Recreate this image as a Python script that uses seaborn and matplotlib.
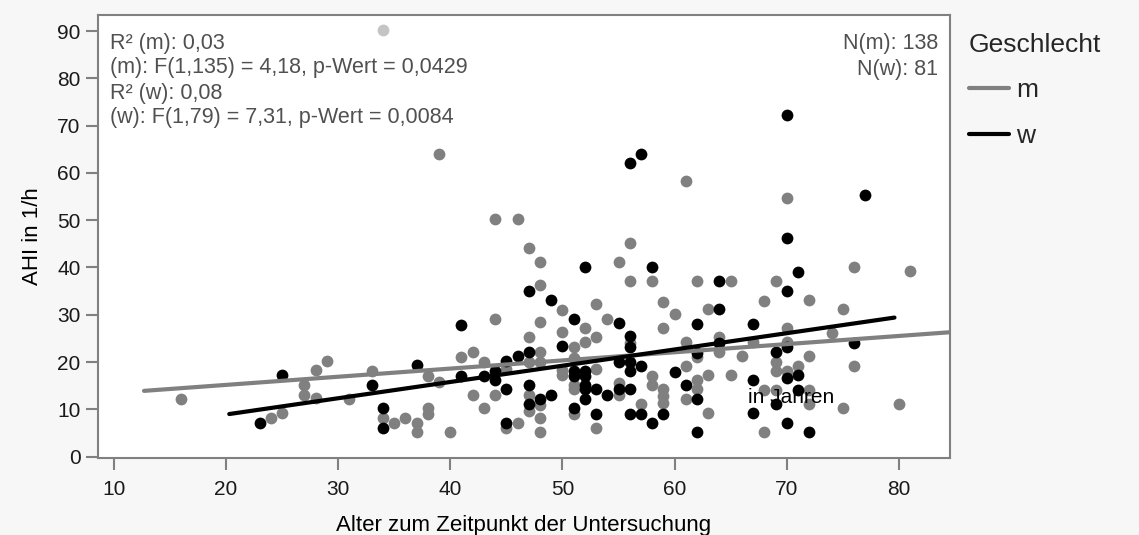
import matplotlib
matplotlib.use("Agg")
import matplotlib.pyplot as plt
import seaborn as sns
import pandas as pd
from matplotlib.lines import Line2D

# ---- data ----
m_age = [16, 24, 25, 27, 27, 28, 28, 29, 31, 33, 34, 35, 36, 37, 37, 38, 38, 38, 39, 39,
         40, 41, 42, 42, 43, 43, 44, 44, 44, 45, 45, 46, 46, 47, 47, 47, 47, 47, 48, 48,
         48, 48, 48, 48, 48, 48, 50, 50, 50, 50, 51, 51, 51, 51, 51, 52, 52, 53, 53, 53,
         53, 54, 55, 55, 55, 56, 56, 56, 57, 58, 58, 58, 59, 59, 59, 59, 59, 60, 61, 61,
         61, 61, 62, 62, 62, 62, 63, 63, 63, 64, 64, 65, 65, 66, 67, 68, 68, 68, 69, 69,
         69, 69, 70, 70, 70, 70, 71, 72, 72, 72, 72, 74, 75, 75, 76, 76, 80, 81]
m_ahi = [12.2, 8.1, 9.2, 15.1, 13.1, 18.4, 12.3, 20.2, 12.1, 18.2, 8.1, 7.2, 8.1, 7.2, 5.2, 10.2, 9.1, 17.1, 15.7, 64.1,
         5.2, 21.1, 22.2, 13.1, 20.1, 10.2, 50.2, 29.2, 13.1, 18.6, 6.1, 50.2, 7.2, 44.2, 25.2, 20.1, 13.1, 9.6, 41.1, 36.2,
         28.5, 22.2, 20.1, 11.0, 8.2, 5.2, 31.1, 26.3, 18.4, 17.3, 23.1, 20.8, 15.2, 14.4, 9.1, 27.1, 24.2, 32.2, 25.2, 18.6,
         6.1, 29.2, 41.1, 15.6, 13.1, 45.1, 37.1, 24.1, 11.2, 37.1, 17.0, 15.1, 32.6, 27.1, 14.2, 12.8, 11.4, 30.2, 58.2, 24.3,
         19.1, 12.1, 37.1, 21.0, 16.3, 14.2, 31.2, 17.3, 9.2, 25.3, 22.1, 37.1, 17.2, 21.2, 24.3, 32.9, 14.1, 5.2, 37.1, 20.1,
         18.2, 14.1, 54.7, 27.3, 24.3, 18.2, 19.1, 33.2, 21.2, 14.1, 11.1, 26.1, 31.2, 10.2, 40.1, 19.1, 11.1, 39.3]

w_age = [23, 25, 33, 34, 34, 37, 41, 41, 43, 44, 44, 45, 45, 45, 46, 47, 47, 47, 47, 48,
         49, 49, 50, 51, 51, 51, 51, 52, 52, 52, 52, 52, 52, 53, 53, 54, 55, 55, 55, 56,
         56, 56, 56, 56, 56, 56, 57, 57, 57, 58, 58, 59, 60, 61, 62, 62, 62, 62, 64, 64,
         64, 67, 67, 67, 69, 69, 70, 70, 70, 70, 70, 70, 71, 71, 71, 72, 76, 77]
w_ahi = [7.1, 17.2, 15.1, 10.2, 6.1, 19.4, 27.8, 17.0, 17.0, 18.0, 16.3, 20.3, 14.2, 7.2, 21.2, 35.1, 22.2, 15.1, 11.2, 12.2,
         33.2, 13.1, 23.4, 29.2, 18.2, 17.0, 10.2, 40.2, 18.2, 17.0, 15.1, 14.2, 12.2, 14.2, 9.1, 13.1, 28.2, 20.1, 14.2, 62.2,
         25.6, 23.1, 20.1, 18.2, 14.2, 9.1, 64.1, 19.1, 9.1, 40.2, 7.2, 9.1, 17.8, 15.2, 28.1, 21.9, 12.1, 5.2, 37.1, 31.2,
         24.1, 28.1, 16.1, 9.2, 22.1, 11.1, 72.2, 46.2, 35.1, 23.1, 16.6, 7.2, 39.1, 17.2, 14.1, 5.2, 24.1, 55.4]

excl_age = [34]
excl_ahi = [90.2]

m_fit_x = [12.7, 84.55]
m_fit_y = [13.9, 26.3]
w_fit_x = [20.3, 79.6]
w_fit_y = [9.0, 29.4]

x_ticks = [10, 20, 30, 40, 50, 60, 70, 80]
y_ticks = [0, 10, 20, 30, 40, 50, 60, 70, 80, 90]

stats_left = ["R\u00b2 (m): 0,03",
              "(m): F(1,135) = 4,18, p-Wert = 0,0429",
              "R\u00b2 (w): 0,08",
              "(w): F(1,79) = 7,31, p-Wert = 0,0084"]
stats_right = ["N(m): 138", "N(w): 81"]

# ---- styling ----
sns.set_theme(style="white")
plt.rcParams['font.family'] = ['Liberation Sans', 'DejaVu Sans']

W, H = 1139, 535
fig = plt.figure(figsize=(W / 100, H / 100), dpi=100, facecolor='#f7f7f7')
L, R, T, B = 98, 950, 15, 458
ax = fig.add_axes([L / W, 1 - B / H, (R - L) / W, (B - T) / H])
ax.set_facecolor('white')

GRAY = '#808080'
df_m = pd.DataFrame({'Alter': m_age, 'AHI': m_ahi})
df_w = pd.DataFrame({'Alter': w_age, 'AHI': w_ahi})
df_x = pd.DataFrame({'Alter': excl_age, 'AHI': excl_ahi})

sns.scatterplot(data=df_x, x='Alter', y='AHI', color='#c4c4c4', s=72, linewidth=0, ax=ax, zorder=2)
sns.scatterplot(data=df_m, x='Alter', y='AHI', color=GRAY, s=72, linewidth=0, ax=ax, zorder=2)
sns.scatterplot(data=df_w, x='Alter', y='AHI', color='black', s=72, linewidth=0, ax=ax, zorder=3)
sns.lineplot(x=m_fit_x, y=m_fit_y, color=GRAY, lw=3, ax=ax, zorder=4)
sns.lineplot(x=w_fit_x, y=w_fit_y, color='black', lw=3, ax=ax, zorder=5)

ax.set_xlim(8.6, 84.55)
ax.set_ylim(-0.3, 93.4)
ax.set_xticks(x_ticks)
ax.set_yticks(y_ticks)
ax.tick_params(bottom=True, left=True, direction='out', length=8.6, width=1.5, color=GRAY,
               labelsize=15, labelcolor='#1a1a1a')
ax.tick_params(axis='x', pad=7)
ax.tick_params(axis='y', pad=4)
for s in ax.spines.values():
    s.set_color(GRAY)
    s.set_linewidth(1.5)

ax.set_xlabel("Alter zum Zeitpunkt der Untersuchung", fontsize=16, color='black', labelpad=12)
ax.set_ylabel("AHI in 1/h", fontsize=16, color='black', labelpad=10)

def ax_y(px):
    return (B - px) / (B - T)

for py, line in zip([43, 68, 93, 118], stats_left):
    ax.text(0.014, ax_y(py), line, transform=ax.transAxes, ha='left', va='center',
            fontsize=15.5, color='#505050')
for py, line in zip([43, 70], stats_right):
    ax.text(0.986, ax_y(py), line, transform=ax.transAxes, ha='right', va='center',
            fontsize=15.5, color='#505050')
ax.text(66.5, 12.4, "in Jahren", fontsize=15, color='black', ha='left', va='center', zorder=6)

handles = [Line2D([0], [0], color=GRAY, lw=3), Line2D([0], [0], color='black', lw=3)]
leg = ax.legend(handles=handles, labels=['m', 'w'], title='Geschlecht', loc='upper left',
                bbox_to_anchor=(958 / W, 1 - 22 / H), bbox_transform=fig.transFigure,
                frameon=False, fontsize=19, title_fontsize=19, handlelength=1.55,
                handletextpad=0.25, labelspacing=0.82, alignment='left', borderaxespad=0)

fig.savefig("out.png", dpi=100, facecolor=fig.get_facecolor())
